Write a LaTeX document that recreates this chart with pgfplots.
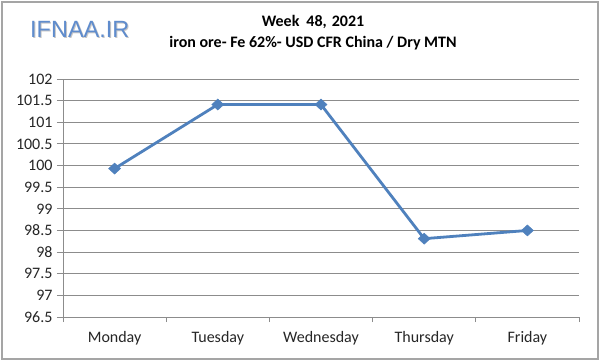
\documentclass[border=0pt]{standalone}
\usepackage{pgfplots}
\pgfplotsset{compat=1.18}
\usepackage{fontspec}
\setmainfont{Carlito}
\newfontfamily\logofont{Liberation Sans}
\definecolor{serblue}{RGB}{79,129,189}
\definecolor{gridgray}{RGB}{140,140,140}
\definecolor{framegray}{RGB}{165,165,165}
\definecolor{logoblue}{RGB}{95,140,205}
\begin{document}
\begin{tikzpicture}
\useasboundingbox (0,0) rectangle (600bp,361bp);
\fill[white] (0,0) rectangle (600bp,361bp);
\draw[framegray, line width=2.5bp] (2bp,2bp) rectangle (598bp,359bp);
\node[anchor=base west, inner sep=0pt, text=gray!45, font=\logofont\fontsize{23.5bp}{26bp}\selectfont] at (31bp,322bp) {IFNAA.IR};
\node[anchor=base west, inner sep=0pt, text=logoblue, font=\logofont\fontsize{23.5bp}{26bp}\selectfont] at (30bp,323bp) {IFNAA.IR};
\node[anchor=base, inner sep=0pt, font=\bfseries\fontsize{16bp}{18bp}\selectfont] at (313bp,334bp) {Week\hspace{7bp}48,\hspace{5bp}2021};
\node[anchor=base, inner sep=0pt, font=\bfseries\fontsize{16bp}{18bp}\selectfont] at (313bp,313bp) {iron ore- Fe 62\%- USD CFR China / Dry MTN};
\begin{axis}[
  at={(63bp,44bp)}, anchor=south west,
  scale only axis, width=516bp, height=238bp,
  xmin=0.5, xmax=5.5, ymin=96.5, ymax=102,
  xtick={1,2,3,4,5},
  xticklabels={Monday,Tuesday,Wednesday,Thursday,Friday},
  minor xtick={0.5,1.5,2.5,3.5,4.5,5.5},
  ytick={96.5,97,...,102},
  yticklabels={96.5,97,97.5,98,98.5,99,99.5,100,100.5,101,101.5,102},
  axis x line*=bottom, axis y line*=left,
  axis line style={gridgray, line width=1bp, -},
  ymajorgrids, major grid style={gridgray, line width=1bp},
  tick style={gridgray, line width=1bp},
  major x tick style={draw=none},
  minor x tick style={gridgray},
  tick align=outside,
  major tick length=6bp, minor tick length=5bp,
  ticklabel style={font=\fontsize{16bp}{18bp}\selectfont, text=black!85},
  yticklabel style={xshift=-1bp},
  xticklabel style={yshift=-5bp},
  /pgf/number format/assume math mode=true,
  clip=false,
]
\addplot[serblue, line width=2.8bp, mark=diamond*, mark size=5.5bp, mark options={fill=serblue, line width=0.5bp, xscale=1.45}]
  coordinates {(1,99.93) (2,101.41) (3,101.41) (4,98.31) (5,98.5)};
\end{axis}
\end{tikzpicture}
\end{document}
